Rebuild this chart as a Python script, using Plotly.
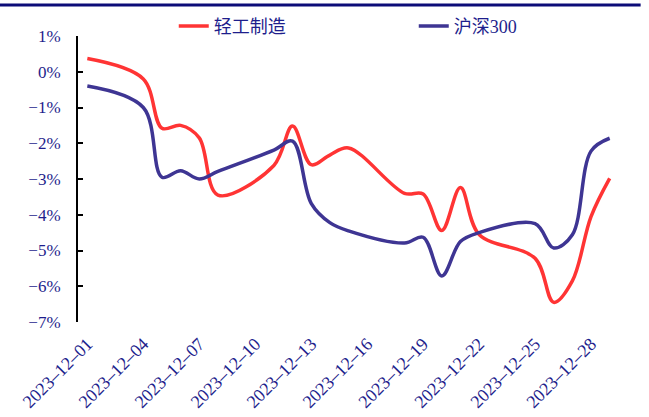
import plotly.graph_objects as go

# Trading days, December 2023
dates = [
    "2023-12-01", "2023-12-04", "2023-12-05", "2023-12-06", "2023-12-07",
    "2023-12-08", "2023-12-11", "2023-12-12", "2023-12-13", "2023-12-14",
    "2023-12-15", "2023-12-18", "2023-12-19", "2023-12-20", "2023-12-21",
    "2023-12-22", "2023-12-25", "2023-12-26", "2023-12-27", "2023-12-28",
    "2023-12-29",
]

# Cumulative change, %
light_industry = [
    0.37, -0.20, -1.58, -1.50, -1.85, -3.45, -2.62, -1.52, -2.60, -2.33,
    -2.13, -3.40, -3.42, -4.44, -3.24, -4.55, -5.22, -6.45, -5.85, -4.05,
    -2.98,
]
csi300 = [
    -0.40, -1.00, -2.95, -2.77, -3.00, -2.79, -2.19, -1.94, -3.68, -4.22,
    -4.45, -4.79, -4.63, -5.71, -4.75, -4.50, -4.25, -4.93, -4.56, -2.22,
    -1.86,
]

series_names = ["轻工制造", "沪深300"]
series_colors = ["#FF3434", "#3E3593"]

Y_MIN, Y_MAX = -7, 1
X_RANGE = ["2023-11-30 12:00", "2023-12-29 12:00"]
DAY_MS = 86400000

TEXT_COLOR = "#1E1E8C"
SERIF = "Liberation Serif, Times New Roman, Noto Sans CJK SC, serif"

fig = go.Figure()
for name, vals, col in zip(series_names, [light_industry, csi300], series_colors):
    fig.add_trace(go.Scatter(
        x=dates, y=vals, name=name, mode="lines",
        line=dict(color=col, width=3.5, shape="spline", smoothing=1.0),
    ))

zero_pos = (0 - Y_MIN) / (Y_MAX - Y_MIN)

fig.update_layout(
    width=649, height=417,
    margin=dict(l=78, r=30, t=36, b=95, autoexpand=False),
    paper_bgcolor="white", plot_bgcolor="white",
    font=dict(family=SERIF, color=TEXT_COLOR, size=17),
    showlegend=True,
    legend=dict(
        orientation="h", x=0.177, xanchor="left", y=1.034, yanchor="middle",
        font=dict(family=SERIF, size=18, color=TEXT_COLOR),
        bgcolor="rgba(0,0,0,0)", entrywidth=195, itemwidth=30,
        tracegroupgap=0,
    ),
    xaxis=dict(
        type="date", range=X_RANGE,
        tick0="2023-12-01", dtick=3 * DAY_MS, tickformat="%Y–%m–%d",
        tickangle=-45, ticks="", showline=False, showgrid=False,
        zeroline=False, ticklabelstandoff=7,
        tickfont=dict(family=SERIF, size=18, color=TEXT_COLOR),
    ),
    # axis line drawn through 0% with tick marks between label periods
    xaxis2=dict(
        type="date", range=X_RANGE, overlaying="x", anchor="free",
        position=zero_pos, side="top",
        tick0="2023-12-03 12:00", dtick=3 * DAY_MS,
        ticks="outside", ticklen=5, tickwidth=2, tickcolor="black",
        showline=True, linecolor="black", linewidth=2,
        showticklabels=False, showgrid=False, zeroline=False,
    ),
    yaxis=dict(
        range=[Y_MIN, Y_MAX], dtick=1, ticksuffix="%",
        ticks="inside", ticklen=5, tickwidth=2, tickcolor="black",
        showline=True, linecolor="black", linewidth=2,
        showgrid=False, zeroline=False, ticklabelstandoff=12,
        tickfont=dict(family=SERIF, size=17, color=TEXT_COLOR),
    ),
    shapes=[dict(
        type="line", xref="paper", yref="paper",
        x0=-0.15, x1=1.04, y0=1.108, y1=1.108,
        line=dict(color="#0C0C78", width=3),
    )],
)

fig.write_html("out.html")
